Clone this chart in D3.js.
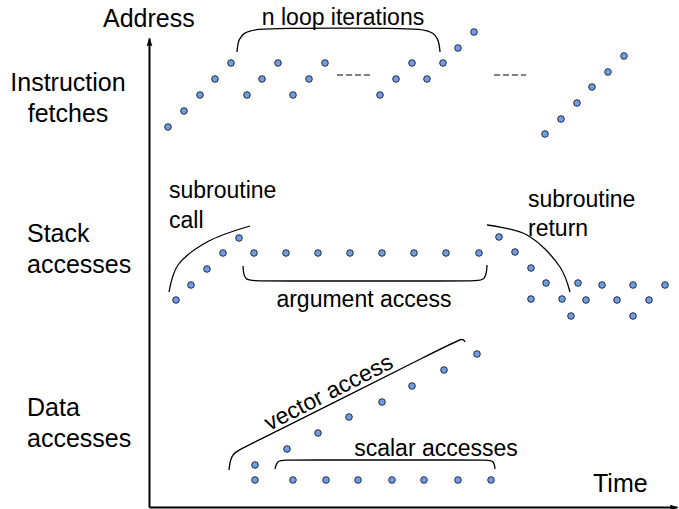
<!DOCTYPE html>
<html>
<head>
<meta charset="utf-8">
<script src="https://cdn.jsdelivr.net/npm/d3@7"></script>
<style>
  body { margin: 0; background: #fff; }
  text { font-family: "Liberation Sans", Arial, sans-serif; fill: #000; }
</style>
</head>
<body>
<div class="access_chart"></div>
<script>
// data: time (x) and address (y) of each memory reference
var instrTime = [19,35,51,66,82, 98,113,129, 144,160,176, 231,247,263, 278,294, 309,325, 396,412,428,443,459,475];
var instrAddr = [380,396,412,428,444, 412,428,444, 412,428,444, 412,428,444, 428,444, 459,475, 373,388,404,420,435,451];

var stackTime = [27,42,58,74,90, 105,137,169,201,233,265,297,330, 350,366,382,397, 382,413,422,429,437,453,468,484,484,500,516];
var stackAddr = [207,222,238,254,269, 254,254,254,254,254,254,254,254, 270,255,239,224, 208,208,191,224,207,222,207,222,191,207,222];

var vectorTime = [106,138,169,200,233,263,295,328];
var vectorAddr = [42,58,74,90,105,121,137,153];

var scalarTime = [106,144,177,209,243,275,309,342];
var scalarAddr = [27,27,27,27,27,27,27,27];

var rowLabels = [["Instruction", "fetches"], ["Stack", "accesses"], ["Data", "accesses"]];

// set the dimensions of the drawing
var width = 679,
  height = 509;

var svg = d3.select(".access_chart")
.append("svg")
  .attr("width", width)
  .attr("height", height);

var x = d3.scaleLinear().domain([0, 528]).range([149, 677]);
var y = d3.scaleLinear().domain([0, 469]).range([507, 38]);

// arrow head for both axes
svg.append("defs").append("marker")
    .attr("id", "arrow")
    .attr("viewBox", "0 -5 10 10")
    .attr("refX", 9)
    .attr("refY", 0)
    .attr("markerWidth", 8)
    .attr("markerHeight", 8)
    .attr("markerUnits", "userSpaceOnUse")
    .attr("orient", "auto")
  .append("path")
    .attr("d", "M0,-3.5L10,0L0,3.5Z")
    .attr("fill", "#000");

var xAxis = svg.append("g")
    .attr("transform", "translate(0," + y(0) + ")")
    .call(d3.axisBottom(x).ticks(0).tickSizeOuter(0));
xAxis.select(".domain")
    .attr("stroke-width", 2)
    .attr("marker-end", "url(#arrow)");

var yAxis = svg.append("g")
    .attr("transform", "translate(" + x(0) + ",0)")
    .call(d3.axisLeft(y).ticks(0).tickSizeOuter(0));
yAxis.select(".domain")
    .attr("stroke-width", 2)
    .attr("marker-end", "url(#arrow)");

// braces and curves, in data units
var curveLine = d3.line()
    .x(function(d) { return x(d[0]); })
    .y(function(d) { return y(d[1]); });

var braces = [
  {pts: [[88,455],[90,477],[125,479],[255,479],[289,477],[291,455]], curve: d3.curveBasis},   // n loop iterations
  {pts: [[94,241],[95,226],[109,226],[323,226],[337,226],[338,242]], curve: d3.curveBasis},   // argument access
  {pts: [[126,38],[128,47],[139,47],[335,47],[345,47],[346,38]], curve: d3.curveBasis},       // scalar accesses
  {pts: [[80,37],[82,54],[97,60],[303,164],[314,169],[316,165]], curve: d3.curveBasis},       // vector access
  {pts: [[20,215],[29,242],[58,265],[101,281]], curve: d3.curveCatmullRom},                   // subroutine call
  {pts: [[338,282],[378,272],[411,240],[421,215]], curve: d3.curveCatmullRom}                 // subroutine return
];

svg.selectAll(".brace")
    .data(braces)
    .enter()
    .append("path")
      .attr("class", "brace")
      .attr("d", function(d) { return curveLine.curve(d.curve)(d.pts); })
      .attr("fill", "none")
      .attr("stroke", "#000")
      .attr("stroke-width", 1.3);

// "----" gaps in the instruction stream
var gaps = [[188, 221], [345, 377]];
svg.selectAll(".gap")
    .data(gaps)
    .enter()
    .append("line")
      .attr("class", "gap")
      .attr("x1", function(d) { return x(d[0]); })
      .attr("x2", function(d) { return x(d[1]); })
      .attr("y1", y(432))
      .attr("y2", y(432))
      .attr("stroke", "#000")
      .attr("stroke-width", 1.2)
      .attr("stroke-dasharray", "6,3");

// add the dots
function addDots(times, addrs, cls) {
  svg.selectAll("." + cls)
    .data(d3.zip(times, addrs))
    .enter()
    .append("circle")
      .attr("class", cls)
      .attr("cx", function(d) { return x(d[0]); })
      .attr("cy", function(d) { return y(d[1]); })
      .attr("r", 3.3)
      .attr("fill", "#6d9eeb")
      .attr("stroke", "#1a1a1a")
      .attr("stroke-width", 0.9);
}
addDots(instrTime, instrAddr, "instr");
addDots(stackTime, stackAddr, "stack");
addDots(vectorTime, vectorAddr, "vector");
addDots(scalarTime, scalarAddr, "scalar");

// texts
function label(txt, t, a, size, anchor) {
  return svg.append("text")
    .attr("x", x(t))
    .attr("y", y(a))
    .attr("font-size", size)
    .attr("text-anchor", anchor || "start")
    .text(txt);
}

label("Address", -46, 480, 25);
label("Time", 444, 15, 25);

var rowPos = [[-81, 416, "middle"], [-122, 265, "start"], [-122, 91, "start"]];
rowLabels.forEach(function(lines, i) {
  lines.forEach(function(s, j) {
    label(s, rowPos[i][0], rowPos[i][1] - j * 31, 25, rowPos[i][2]);
  });
});

label("n loop iterations", 194, 482, 23, "middle");
label("subroutine", 20, 309, 23);
label("call", 20, 279, 23);
label("subroutine", 379, 300, 23);
label("return", 379, 271, 23);
label("argument access", 215, 200, 23, "middle");
label("scalar accesses", 287, 51, 23, "middle");
label("vector access", 183, 108, 23, "middle")
    .attr("transform", "rotate(-27," + x(183) + "," + y(108) + ")");
</script>
</body>
</html>
